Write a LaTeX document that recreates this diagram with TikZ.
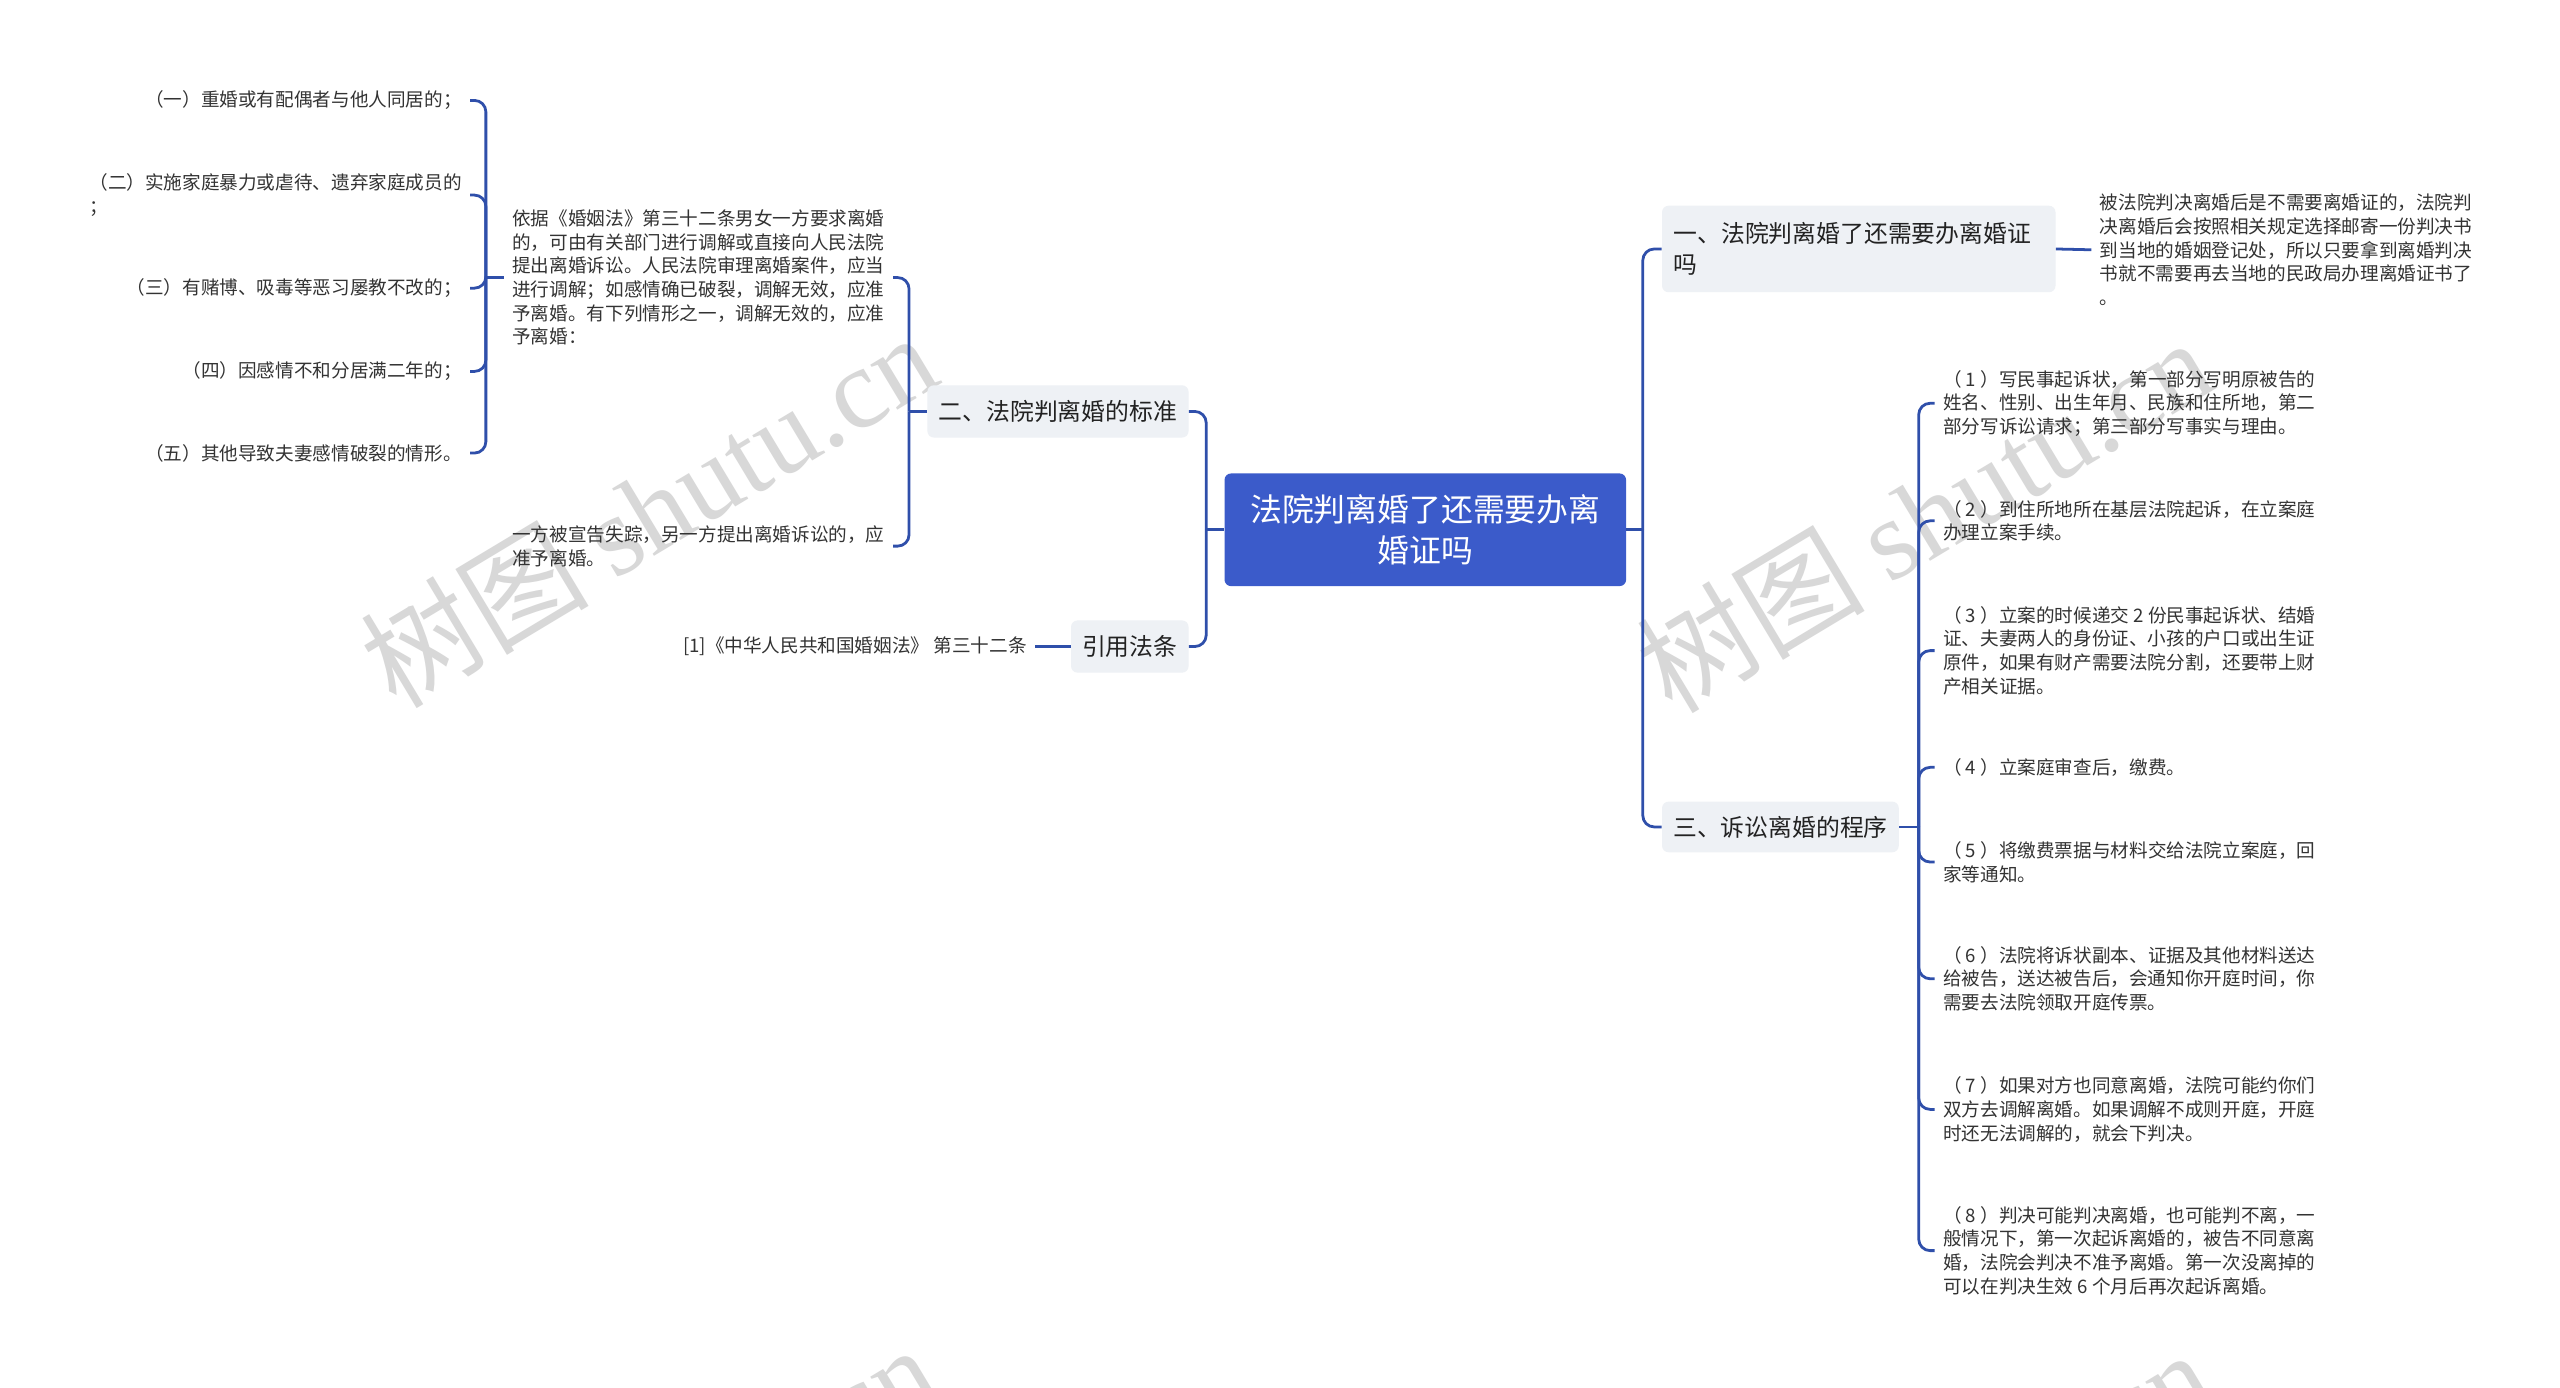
\documentclass[tikz,border=0pt]{standalone}
\usepackage{fontspec}
\setmainfont{Noto Sans CJK SC}
\newfontfamily\wmserif{Liberation Serif}
\usetikzlibrary{calc}
\definecolor{lineblue}{HTML}{2F4FAA}
\definecolor{rootblue}{HTML}{3B5BCA}
\definecolor{subgray}{HTML}{EEF1F5}
\definecolor{txt}{HTML}{333333}
\definecolor{subtxt}{HTML}{222222}
\definecolor{wm}{HTML}{D8D8D8}
\begin{document}
\begin{tikzpicture}[x=1pt,y=-1pt,
 conn/.style={draw=lineblue, line width=1.7pt, rounded corners=7pt},
 root/.style={fill=rootblue, rounded corners=4pt, text=white, font=\fontsize{19.5}{25}\selectfont, align=center, minimum width=246pt, minimum height=69pt, inner sep=0pt},
 sub/.style={fill=subgray, rounded corners=4pt, text=subtxt, font=\fontsize{14.6}{19}\selectfont, inner sep=0pt},
 leaf/.style={text=txt, font=\fontsize{11.4}{14.5}\selectfont, align=left, inner xsep=5pt, inner ysep=0pt},
 wmark/.style={text=wm, font=\fontsize{70}{70}\selectfont, rotate=31, inner sep=0pt}
]
\useasboundingbox (0,0) rectangle (1568,850);
\fill[white] (0,0) rectangle (1568,850);

% watermarks
\begin{scope}
\clip (0,0) rectangle (1568,850);
\node[wmark] (wm1) at (397,312) {树图 {\wmserif shutu.cn}};
\node[wmark] (wm2) at (1178,315) {树图 {\wmserif shutu.cn}};
\node[wmark] (wm3) at (397,932) {树图 {\wmserif shutu.cn}};
\node[wmark] (wm4) at (1178,935) {树图 {\wmserif shutu.cn}};
\end{scope}

% root
\node[root] (root) at (873,324.5) {法院判离婚了还需要办离\\婚证吗};

% main branches
\node[sub, minimum width=241pt, minimum height=53pt, text width=227pt, align=left] (s1) at (1138.5,152.5) {一、法院判离婚了还需要办离婚证\\吗};
\node[sub, minimum width=145pt, minimum height=31pt] (s3) at (1090.5,506.5) {三、诉讼离婚的程序};
\node[sub, minimum width=160pt, minimum height=32pt] (s2) at (648,252) {二、法院判离婚的标准};
\node[sub, minimum width=72pt, minimum height=32pt] (law) at (692,396) {引用法条};

% right leaves
\node[leaf, anchor=west] (r0) at (1281,153) {被法院判决离婚后是不需要离婚证的，法院判\\决离婚后会按照相关规定选择邮寄一份判决书\\到当地的婚姻登记处，所以只要拿到离婚判决\\书就不需要再去当地的民政局办理离婚证书了\\。};

\node[leaf, anchor=west] (r1) at (1185,247) {（ 1 ）写民事起诉状，第一部分写明原被告的\\姓名、性别、出生年月、民族和住所地，第二\\部分写诉讼请求；第三部分写事实与理由。};
\node[leaf, anchor=west] (r2) at (1185,319) {（ 2 ）到住所地所在基层法院起诉，在立案庭\\办理立案手续。};
\node[leaf, anchor=west] (r3) at (1185,398.5) {（ 3 ）立案的时候递交 2 份民事起诉状、结婚\\证、夫妻两人的身份证、小孩的户口或出生证\\原件，如果有财产需要法院分割，还要带上财\\产相关证据。};
\node[leaf, anchor=west] (r4) at (1185,470) {（ 4 ）立案庭审查后，缴费。};
\node[leaf, anchor=west] (r5) at (1185,528) {（ 5 ）将缴费票据与材料交给法院立案庭，回\\家等通知。};
\node[leaf, anchor=west] (r6) at (1185,599.5) {（ 6 ）法院将诉状副本、证据及其他材料送达\\给被告，送达被告后，会通知你开庭时间，你\\需要去法院领取开庭传票。};
\node[leaf, anchor=west] (r7) at (1185,679.5) {（ 7 ）如果对方也同意离婚，法院可能约你们\\双方去调解离婚。如果调解不成则开庭，开庭\\时还无法调解的，就会下判决。};
\node[leaf, anchor=west] (r8) at (1185,766) {（ 8 ）判决可能判决离婚，也可能判不离，一\\般情况下，第一次起诉离婚的，被告不同意离\\婚，法院会判决不准予离婚。第一次没离掉的\\可以在判决生效 6 个月后再次起诉离婚。};

% left leaves
\node[leaf, anchor=east] (p1) at (547,170) {依据《婚姻法》第三十二条男女一方要求离婚\\的，可由有关部门进行调解或直接向人民法院\\提出离婚诉讼。人民法院审理离婚案件，应当\\进行调解；如感情确已破裂，调解无效，应准\\予离婚。有下列情形之一，调解无效的，应准\\予离婚：};
\node[leaf, anchor=east] (p2) at (547,334.5) {一方被宣告失踪，另一方提出离婚诉讼的，应\\准予离婚。};

\node[leaf, anchor=east] (i1) at (288,61.5) {（一）重婚或有配偶者与他人同居的；};
\node[leaf, anchor=east] (i2) at (288,119.5) {（二）实施家庭暴力或虐待、遗弃家庭成员的\\；};
\node[leaf, anchor=east] (i3) at (288,176.5) {（三）有赌博、吸毒等恶习屡教不改的；};
\node[leaf, anchor=east] (i4) at (288,227.5) {（四）因感情不和分居满二年的；};
\node[leaf, anchor=east] (i5) at (288,277.5) {（五）其他导致夫妻感情破裂的情形。};

\node[leaf, anchor=east] (ref) at (634,396) {[1]《中华人民共和国婚姻法》 第三十二条};

% connectors right
\coordinate (jR) at ($(root.east)+(10,0)$);
\draw[conn] (root.east) -- (jR);
\draw[conn] (jR) |- (s1.west);
\draw[conn] (jR) |- (s3.west);
\draw[conn] (s1.east) -- (r0.west);
\coordinate (j3) at ($(s3.east)+(12,0)$);
\draw[conn] (s3.east) -- (j3);
\foreach \n in {r1,r2,r3,r4,r5,r6,r7,r8} {\draw[conn] (j3) |- (\n.west);}

% connectors left
\coordinate (jL) at ($(root.west)+(-11,0)$);
\draw[conn] (root.west) -- (jL);
\draw[conn] (jL) |- (s2.east);
\draw[conn] (jL) |- (law.east);
\draw[conn] (law.west) -- (ref.east);
\coordinate (j2) at ($(s2.west)+(-11,0)$);
\draw[conn] (s2.west) -- (j2);
\draw[conn] (j2) |- (p1.east);
\draw[conn] (j2) |- (p2.east);
\coordinate (jP) at ($(p1.west)+(-11,0)$);
\draw[conn] (p1.west) -- (jP);
\foreach \n in {i1,i2,i3,i4,i5} {\draw[conn] (jP) |- (\n.east);}
\end{tikzpicture}
\end{document}
